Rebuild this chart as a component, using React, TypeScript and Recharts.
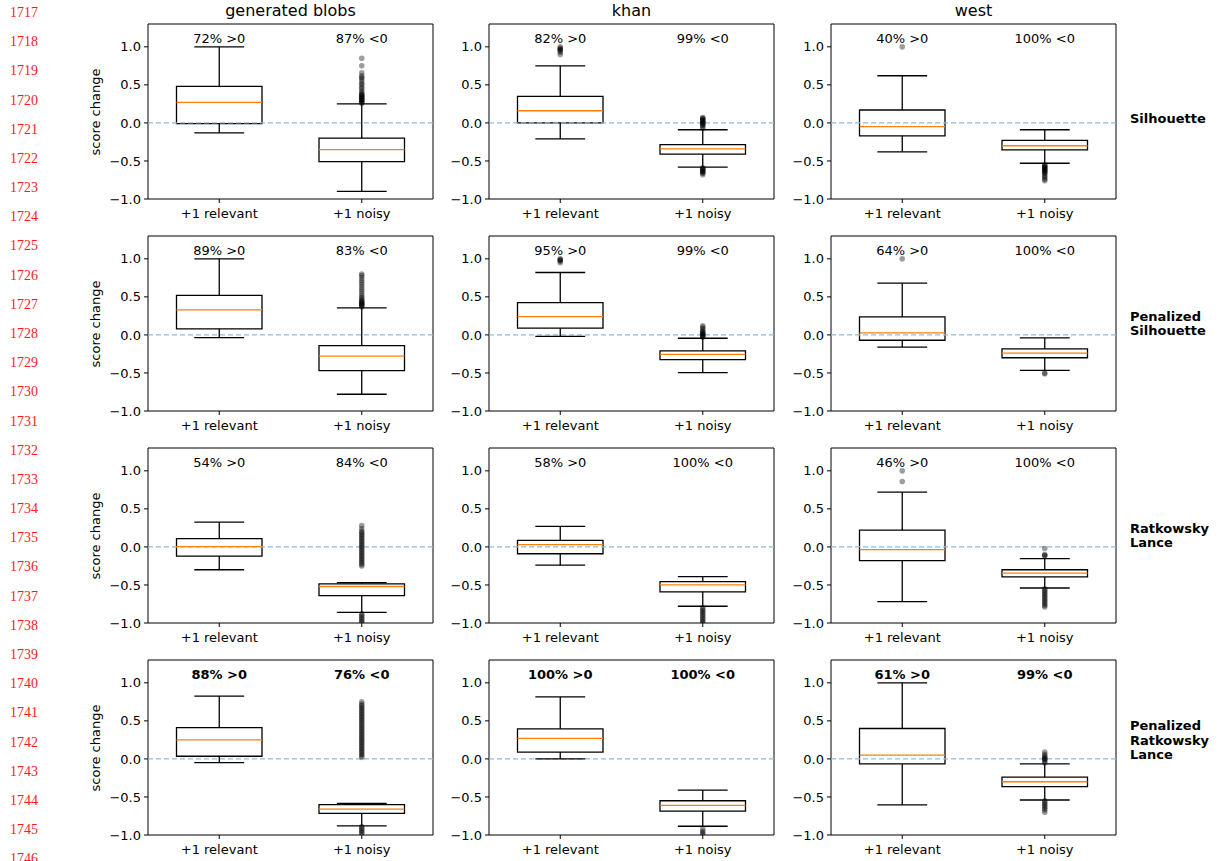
import React from "react";
import {
  ReferenceArea,
  ReferenceDot,
  ReferenceLine,
  Scatter,
  ScatterChart,
  XAxis,
  YAxis,
} from "recharts";

const DATASETS = ["generated blobs", "khan", "west"];
const GROUPS = ["+1 relevant", "+1 noisy"];
const METRICS = [
  ["Silhouette"],
  ["Penalized", "Silhouette"],
  ["Ratkowsky", "Lance"],
  ["Penalized", "Ratkowsky", "Lance"],
];
const Y_TICKS = [-1, -0.5, 0, 0.5, 1];
const LINE_NUMBERS = [
  1717, 1718, 1719, 1720, 1721, 1722, 1723, 1724, 1725, 1726, 1727, 1728, 1729, 1730, 1731,
  1732, 1733, 1734, 1735, 1736, 1737, 1738, 1739, 1740, 1741, 1742, 1743, 1744, 1745, 1746,
];

// per dataset: [relevant, noisy], each [lower whisker, q1, median, q3, upper whisker]
const silStats = [
  [[-0.13, -0.01, 0.27, 0.48, 1.0], [-0.9, -0.51, -0.35, -0.2, 0.25]],
  [[-0.21, 0.0, 0.16, 0.35, 0.75], [-0.58, -0.41, -0.34, -0.285, -0.09]],
  [[-0.38, -0.17, -0.05, 0.17, 0.62], [-0.53, -0.355, -0.3, -0.23, -0.09]],
];
const penSilStats = [
  [[-0.035, 0.08, 0.33, 0.52, 1.0], [-0.78, -0.47, -0.28, -0.14, 0.355]],
  [[-0.02, 0.088, 0.24, 0.425, 0.82], [-0.495, -0.325, -0.255, -0.21, -0.044]],
  [[-0.16, -0.07, 0.026, 0.237, 0.68], [-0.465, -0.3, -0.24, -0.184, -0.04]],
];
const rlStats = [
  [[-0.3, -0.12, 0.005, 0.11, 0.325], [-0.86, -0.64, -0.52, -0.485, -0.47]],
  [[-0.24, -0.09, 0.03, 0.085, 0.27], [-0.78, -0.59, -0.5, -0.455, -0.39]],
  [[-0.72, -0.18, -0.035, 0.22, 0.72], [-0.54, -0.395, -0.345, -0.3, -0.155]],
];
const penRlStats = [
  [[-0.05, 0.035, 0.25, 0.41, 0.825], [-0.88, -0.715, -0.66, -0.6, -0.585]],
  [[0.0, 0.09, 0.27, 0.395, 0.815], [-0.885, -0.685, -0.61, -0.55, -0.41]],
  [[-0.605, -0.066, 0.05, 0.4, 1.0], [-0.54, -0.365, -0.3, -0.24, -0.066]],
];

// outliers per dataset: [relevant, noisy]
const silFliers = [
  [[], [0.26, 0.27, 0.28, 0.29, 0.3, 0.31, 0.32, 0.33, 0.34, 0.35, 0.36, 0.37, 0.38, 0.4, 0.42, 0.45, 0.47, 0.5, 0.52, 0.55, 0.58, 0.6, 0.62, 0.66, 0.75, 0.85]],
  [[0.9, 0.93, 0.95, 0.96, 0.97, 0.98, 1.0], [-0.07, -0.05, -0.03, -0.02, -0.01, 0.0, 0.01, 0.02, 0.03, 0.04, 0.05, 0.06, 0.07, -0.59, -0.6, -0.61, -0.62, -0.63, -0.64, -0.65, -0.66, -0.68]],
  [[1.0], [-0.55, -0.56, -0.57, -0.58, -0.59, -0.6, -0.61, -0.62, -0.63, -0.64, -0.65, -0.66, -0.68, -0.7, -0.72, -0.74, -0.76]],
];
const penSilFliers = [
  [[], [0.37, 0.38, 0.39, 0.4, 0.41, 0.42, 0.43, 0.44, 0.45, 0.47, 0.49, 0.51, 0.54, 0.57, 0.6, 0.63, 0.66, 0.69, 0.72, 0.75, 0.78, 0.8]],
  [[0.95, 0.97, 0.98, 0.99, 1.0], [-0.03, -0.02, -0.01, 0.0, 0.01, 0.02, 0.03, 0.04, 0.06, 0.08, 0.1, 0.12]],
  [[1.0], [-0.5, -0.51]],
];
const rlFliers = [
  [[], [-0.25, -0.23, -0.21, -0.19, -0.17, -0.15, -0.13, -0.11, -0.09, -0.07, -0.05, -0.03, -0.01, 0.01, 0.03, 0.05, 0.07, 0.09, 0.11, 0.13, 0.15, 0.17, 0.19, 0.21, 0.24, 0.28, -0.88, -0.9, -0.92, -0.94, -0.96, -0.98, -1.0]],
  [[], [-0.8, -0.82, -0.84, -0.86, -0.88, -0.9, -0.92, -0.94, -0.96, -0.98, -1.0]],
  [[0.86, 1.0], [-0.02, -0.1, -0.11, -0.12, -0.55, -0.57, -0.59, -0.61, -0.63, -0.65, -0.67, -0.69, -0.71, -0.73, -0.75, -0.77, -0.79]],
];
const penRlFliers = [
  [[], [0.02, 0.04, 0.06, 0.08, 0.1, 0.12, 0.14, 0.16, 0.18, 0.2, 0.22, 0.24, 0.26, 0.28, 0.3, 0.32, 0.34, 0.36, 0.38, 0.4, 0.42, 0.44, 0.46, 0.48, 0.5, 0.52, 0.54, 0.56, 0.58, 0.6, 0.62, 0.64, 0.66, 0.68, 0.7, 0.72, 0.75, -0.89, -0.91, -0.93, -0.95, -0.97, -0.99]],
  [[], [-0.92, -0.95, -0.97, -0.99]],
  [[], [-0.05, -0.03, -0.01, 0.0, 0.01, 0.02, 0.04, 0.06, 0.09, -0.55, -0.57, -0.59, -0.61, -0.63, -0.65, -0.67, -0.7]],
];

const silNotes = [["72% >0", "87% <0"], ["82% >0", "99% <0"], ["40% >0", "100% <0"]];
const penSilNotes = [["89% >0", "83% <0"], ["95% >0", "99% <0"], ["64% >0", "100% <0"]];
const rlNotes = [["54% >0", "84% <0"], ["58% >0", "100% <0"], ["46% >0", "100% <0"]];
const penRlNotes = [["88% >0", "76% <0"], ["100% >0", "100% <0"], ["61% >0", "99% <0"]];

const ROW_STATS = [silStats, penSilStats, rlStats, penRlStats];
const ROW_FLIERS = [silFliers, penSilFliers, rlFliers, penRlFliers];
const ROW_NOTES = [silNotes, penSilNotes, rlNotes, penRlNotes];

const PLOT_W = 285;
const PLOT_H = 175;
const AXIS_W = 48;
const COL_LEFT = [148, 489, 831];
const ROW_TOP = [24, 236, 448, 660];
const FONT = "'DejaVu Sans', sans-serif";
const LW = 1.3;

const fmtY = (v: number) => v.toFixed(1).replace("-", "\u2212");

function boxMarks(s: number[], x: number, key: string) {
  const [lo, q1, med, q3, hi] = s;
  const hw = 0.3;
  const cw = 0.175;
  const line = { stroke: "#000", strokeWidth: LW };
  return [
    <ReferenceArea key={key + "box"} x1={x - hw} x2={x + hw} y1={q1} y2={q3} fill="none" fillOpacity={0} {...line} />,
    <ReferenceLine key={key + "wlo"} segment={[{ x, y: lo }, { x, y: q1 }]} {...line} />,
    <ReferenceLine key={key + "whi"} segment={[{ x, y: q3 }, { x, y: hi }]} {...line} />,
    <ReferenceLine key={key + "clo"} segment={[{ x: x - cw, y: lo }, { x: x + cw, y: lo }]} {...line} />,
    <ReferenceLine key={key + "chi"} segment={[{ x: x - cw, y: hi }, { x: x + cw, y: hi }]} {...line} />,
    <ReferenceLine key={key + "med"} segment={[{ x: x - hw, y: med }, { x: x + hw, y: med }]} stroke="#ff7f0e" strokeWidth={LW} />,
  ];
}

function Panel({ row, col }: { row: number; col: number }) {
  const stats = ROW_STATS[row][col];
  const fliers = ROW_FLIERS[row][col];
  const notes = ROW_NOTES[row][col];
  const bold = row === 3;
  const flierData = fliers.flatMap((vals: number[], g: number) => vals.map((y) => ({ x: g + 1, y })));
  return (
    <ScatterChart
      width={AXIS_W + PLOT_W + 4}
      height={4 + PLOT_H + 26}
      margin={{ top: 4, right: 4, bottom: 0, left: 0 }}
    >
      <XAxis
        type="number"
        dataKey="x"
        domain={[0.5, 2.5]}
        ticks={[1, 2]}
        interval={0}
        allowDataOverflow
        tickFormatter={(v) => GROUPS[v - 1]}
        axisLine={false}
        tickLine={{ stroke: "#000" }}
        tickSize={4}
        tickMargin={6}
        height={26}
        tick={{ fill: "#000", fontSize: 13 }}
      />
      <YAxis
        type="number"
        dataKey="y"
        domain={[-1, 1.3]}
        ticks={Y_TICKS}
        interval={0}
        allowDataOverflow
        tickFormatter={fmtY}
        axisLine={false}
        tickLine={{ stroke: "#000" }}
        tickSize={4}
        tickMargin={3}
        width={AXIS_W}
        tick={{ fill: "#000", fontSize: 13 }}
      />
      <ReferenceLine y={0} stroke="#8fbbd9" strokeWidth={1.2} strokeDasharray="5 3" />
      {stats.map((s: number[], g: number) => boxMarks(s, g + 1, `g${g}`))}
      {notes.map((n: string, g: number) => (
        <ReferenceDot
          key={"note" + g}
          x={g + 1}
          y={1.11}
          r={0}
          fill="none"
          stroke="none"
          label={{ value: n, position: "center", fill: "#000", fontSize: 13, fontWeight: bold ? 700 : 400 }}
        />
      ))}
      <ReferenceArea x1={0.5} x2={2.5} y1={-1} y2={1.3} fill="none" fillOpacity={0} stroke="#000" strokeWidth={1} />
      <Scatter
        data={flierData}
        isAnimationActive={false}
        shape={(p: any) => <circle cx={p.cx} cy={p.cy} r={2.8} fill="#000" fillOpacity={0.38} />}
      />
    </ScatterChart>
  );
}

export default function App() {
  return (
    <div
      style={{
        position: "fixed",
        left: 0,
        top: 0,
        width: 1222,
        height: 861,
        background: "#fff",
        fontFamily: FONT,
        overflow: "hidden",
      }}
    >
      {LINE_NUMBERS.map((n, i) => (
        <div
          key={n}
          style={{
            position: "absolute",
            left: 10,
            top: 13 + i * 29.18,
            transform: "translateY(-50%)",
            fontFamily: "'Liberation Serif', serif",
            fontSize: 14,
            lineHeight: "14px",
            color: "#ff1a1a",
          }}
        >
          {n}
        </div>
      ))}
      {DATASETS.map((d, c) => (
        <div
          key={d}
          style={{
            position: "absolute",
            left: COL_LEFT[c] + PLOT_W / 2,
            top: 11,
            transform: "translate(-50%, -50%)",
            fontSize: 16,
            lineHeight: "16px",
            whiteSpace: "nowrap",
            color: "#000",
          }}
        >
          {d}
        </div>
      ))}
      {ROW_TOP.map((t, r) => (
        <React.Fragment key={"row" + r}>
          <div
            style={{
              position: "absolute",
              left: 95,
              top: t + PLOT_H / 2,
              transform: "translate(-50%, -50%) rotate(-90deg)",
              fontSize: 13,
              lineHeight: "13px",
              whiteSpace: "nowrap",
              color: "#000",
            }}
          >
            score change
          </div>
          {METRICS[r].map((m, k) => (
            <div
              key={m + k}
              style={{
                position: "absolute",
                left: 1130,
                top: t + 99 - 5 - (METRICS[r].length - 1 - k) * 14.5,
                transform: "translateY(-50%)",
                fontSize: 13,
                lineHeight: "13px",
                fontWeight: 700,
                whiteSpace: "nowrap",
                color: "#000",
              }}
            >
              {m}
            </div>
          ))}
          {COL_LEFT.map((l, c) => (
            <div key={"p" + c} style={{ position: "absolute", left: l - AXIS_W, top: t - 4 }}>
              <Panel row={r} col={c} />
            </div>
          ))}
        </React.Fragment>
      ))}
    </div>
  );
}
